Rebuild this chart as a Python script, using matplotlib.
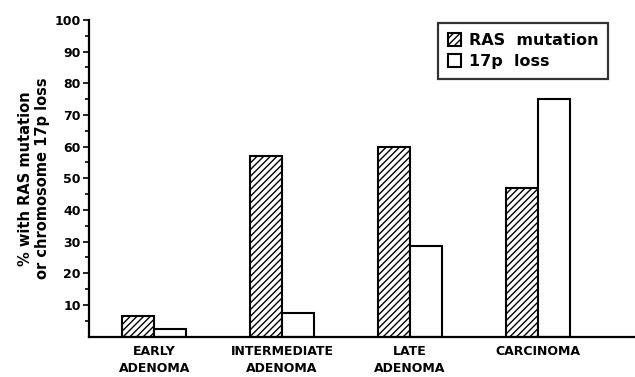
import matplotlib
matplotlib.use("Agg")
import matplotlib.pyplot as plt
import numpy as np

stages = ["EARLY\nADENOMA", "INTERMEDIATE\nADENOMA", "LATE\nADENOMA", "CARCINOMA"]
ras_mutation = [6.5, 57, 60, 47]
loss_17p = [2.5, 7.5, 28.5, 75]

plt.rcParams['font.family'] = ['DejaVu Sans']
plt.rcParams['font.weight'] = 'bold'
plt.rcParams['hatch.linewidth'] = 1.0

fig = plt.figure(figsize=(6.35, 3.77), dpi=100)
ax = fig.add_axes([89/635, (377-336.5)/377, 1 - 89/635, (336.5-20)/377])

x = np.arange(len(stages))
w = 0.25
ax.bar(x - w/2, ras_mutation, w, facecolor='white', edgecolor='black',
       hatch='/////', linewidth=1.5, label='RAS  mutation')
ax.bar(x + w/2, loss_17p, w, facecolor='white', edgecolor='black',
       linewidth=1.5, label='17p  loss')

ax.set_xlim(-0.51, 3.76)
ax.set_ylim(0, 100)
ax.set_yticks(np.arange(10, 101, 10))
ax.set_yticks(np.arange(5, 100, 10), minor=True)
ax.tick_params(axis='y', which='major', length=4, width=1.2, labelsize=9, pad=2)
ax.tick_params(axis='y', which='minor', length=3, width=1.2)
ax.set_xticks(x)
ax.set_xticklabels(stages, fontsize=9, fontweight='bold', linespacing=1.4)
ax.tick_params(axis='x', length=0, pad=6)
for lab in ax.get_yticklabels():
    lab.set_fontweight('bold')

for s in ['top', 'right']:
    ax.spines[s].set_visible(False)
ax.spines['left'].set_linewidth(1.6)
ax.spines['bottom'].set_linewidth(1.6)

ax.set_ylabel("% with RAS mutation\nor chromosome 17p loss", fontsize=10.5,
              fontweight='bold', labelpad=3, linespacing=1.15)

leg = ax.legend(loc='upper right', bbox_to_anchor=(0.966, 1.015), fontsize=11.5,
                frameon=True, fancybox=False, handlelength=0.85, handleheight=0.85,
                handletextpad=0.5, borderpad=0.6, borderaxespad=0.5,
                labelspacing=0.4)
leg.get_frame().set_edgecolor('black')
leg.get_frame().set_linewidth(1.6)
for t in leg.get_texts():
    t.set_fontweight('bold')

fig.savefig("out.png", dpi=100)
